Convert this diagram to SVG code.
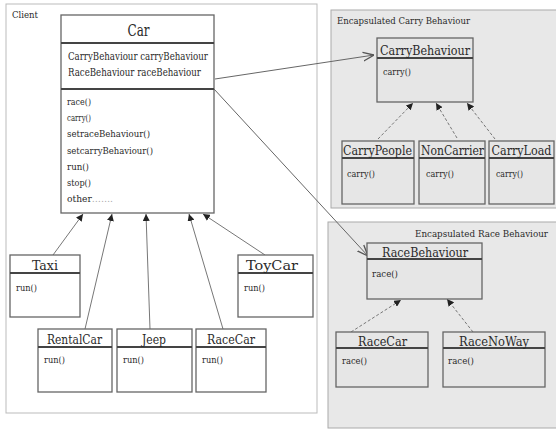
<svg xmlns="http://www.w3.org/2000/svg" width="556" height="431" viewBox="0 0 556 431">
<style>
text{fill:#2a2a2a;font-family:'DejaVu Serif Condensed','DejaVu Serif',serif;font-stretch:condensed}
.box{fill:#fff;stroke:#666;stroke-width:1.3}
.gbox{fill:#e6e6e6;stroke:#666;stroke-width:1.3}
.div{stroke:#444;stroke-width:2}
.t{font-size:13px;text-anchor:middle}
.s{font-size:10px}
.m{font-size:9.5px}
.grp{fill:#e8e8e8;stroke:#aaa;stroke-width:1}
.inh{stroke:#777;stroke-width:1;fill:none;marker-end:url(#tri)}
.real{stroke:#777;stroke-width:1;fill:none;stroke-dasharray:3,2;marker-end:url(#tri)}
.assoc{stroke:#666;stroke-width:1;fill:none;marker-end:url(#open)}
</style>
<defs>
<marker id="tri" viewBox="0 0 10 10" refX="10" refY="5" markerWidth="7" markerHeight="7" orient="auto" markerUnits="userSpaceOnUse"><path d="M0,0 L10,5 L0,10 z" fill="#222"/></marker>
<marker id="open" viewBox="0 0 10 10" refX="10" refY="5" markerWidth="11" markerHeight="11" orient="auto" markerUnits="userSpaceOnUse"><path d="M0,1 L10,5 L0,9" fill="none" stroke="#555" stroke-width="1.2"/></marker>
</defs>
<rect width="556" height="431" fill="#fff"/>
<g id="client">
<rect x="6" y="4" width="311" height="409" fill="#fff" stroke="#bbb" stroke-width="1"/>
<text x="12" y="18" class="s" textLength="26" lengthAdjust="spacingAndGlyphs">Client</text>
</g>
<g id="carry-group">
<rect x="331" y="10" width="230" height="198" class="grp"/>
<text x="337" y="24" class="s" textLength="133" lengthAdjust="spacingAndGlyphs">Encapsulated Carry Behaviour</text>
</g>
<g id="race-group">
<rect x="328" y="222" width="233" height="206" class="grp"/>
<text x="415" y="237" class="s" textLength="133" lengthAdjust="spacingAndGlyphs">Encapsulated Race  Behaviour</text>
</g>
<g id="connectors">
<line x1="53" y1="255" x2="83" y2="214" class="inh"/>
<line x1="85" y1="329" x2="112" y2="214" class="inh"/>
<line x1="150" y1="329" x2="146" y2="214" class="inh"/>
<line x1="223" y1="329" x2="189" y2="214" class="inh"/>
<line x1="265" y1="255" x2="203" y2="214" class="inh"/>
<line x1="378" y1="139" x2="413" y2="103" class="real"/>
<line x1="457" y1="138" x2="436" y2="103" class="real"/>
<line x1="495" y1="139" x2="467" y2="103" class="real"/>
<line x1="351" y1="332" x2="401" y2="300" class="real"/>
<line x1="473" y1="332" x2="447" y2="299" class="real"/>
<line x1="215" y1="79" x2="374" y2="55" class="assoc"/>
<line x1="214" y1="89" x2="368" y2="256" class="assoc"/>
</g>
<g id="car">
<rect x="61" y="15" width="153" height="198" class="box"/>
<line x1="61" y1="43" x2="214" y2="43" class="div"/>
<line x1="61" y1="89" x2="214" y2="89" class="div"/>
<text x="138.5" y="36" font-size="17" text-anchor="middle" textLength="22" lengthAdjust="spacingAndGlyphs">Car</text>
<text x="68" y="60" font-size="11" textLength="140" lengthAdjust="spacingAndGlyphs">CarryBehaviour carryBehaviour</text>
<text x="68" y="76" font-size="11" textLength="133" lengthAdjust="spacingAndGlyphs">RaceBehaviour raceBehaviour</text>
<text x="67" y="105" class="m" textLength="24" lengthAdjust="spacingAndGlyphs">race()</text>
<text x="67" y="121" class="m" textLength="24" lengthAdjust="spacingAndGlyphs">carry()</text>
<text x="67" y="137" class="m" textLength="83" lengthAdjust="spacingAndGlyphs">setraceBehaviour()</text>
<text x="67" y="154" class="m" textLength="86" lengthAdjust="spacingAndGlyphs">setcarryBehaviour()</text>
<text x="67" y="170" class="m" textLength="22" lengthAdjust="spacingAndGlyphs">run()</text>
<text x="67" y="186" class="m" textLength="24" lengthAdjust="spacingAndGlyphs">stop()</text>
<text x="67" y="202" class="m" textLength="46" lengthAdjust="spacingAndGlyphs">other<tspan fill="#aaa">…….</tspan></text>
</g>
<g id="taxi">
<rect x="10" y="255" width="70" height="62" class="box"/>
<line x1="10" y1="273" x2="80" y2="273" class="div"/>
<text x="45" y="270" class="t" font-size="12.5" textLength="26" lengthAdjust="spacingAndGlyphs">Taxi</text>
<text x="16" y="291" class="m" textLength="21" lengthAdjust="spacingAndGlyphs">run()</text>
</g>
<g id="toycar">
<rect x="238" y="255" width="75" height="62" class="box"/>
<line x1="238" y1="273" x2="313" y2="273" class="div"/>
<text x="272" y="270" class="t" font-size="12.5" textLength="52" lengthAdjust="spacingAndGlyphs">ToyCar</text>
<text x="244" y="291" class="m" textLength="21" lengthAdjust="spacingAndGlyphs">run()</text>
</g>
<g id="rentalcar">
<rect x="38" y="329" width="74" height="63" class="box"/>
<line x1="38" y1="347" x2="112" y2="347" class="div"/>
<text x="74.5" y="344" class="t" textLength="55" lengthAdjust="spacingAndGlyphs">RentalCar</text>
<text x="44" y="363" class="m" textLength="21" lengthAdjust="spacingAndGlyphs">run()</text>
</g>
<g id="jeep">
<rect x="117" y="329" width="75" height="63" class="box"/>
<line x1="117" y1="347" x2="192" y2="347" class="div"/>
<text x="154" y="344" class="t" textLength="24" lengthAdjust="spacingAndGlyphs">Jeep</text>
<text x="123" y="363" class="m" textLength="21" lengthAdjust="spacingAndGlyphs">run()</text>
</g>
<g id="racecar-client">
<rect x="196" y="329" width="70" height="63" class="box"/>
<line x1="196" y1="347" x2="266" y2="347" class="div"/>
<text x="231" y="344" class="t" textLength="48" lengthAdjust="spacingAndGlyphs">RaceCar</text>
<text x="202" y="363" class="m" textLength="21" lengthAdjust="spacingAndGlyphs">run()</text>
</g>
<g id="carrybehaviour">
<rect x="377" y="38" width="96" height="64" class="gbox"/>
<line x1="377" y1="58" x2="473" y2="58" class="div"/>
<text x="425" y="55" class="t" font-size="15" textLength="90" lengthAdjust="spacingAndGlyphs">CarryBehaviour</text>
<text x="383" y="75" class="s" textLength="28" lengthAdjust="spacingAndGlyphs">carry()</text>
</g>
<g id="carrypeople">
<rect x="342" y="141" width="72" height="63" class="gbox"/>
<line x1="342" y1="158" x2="414" y2="158" class="div"/>
<text x="377.5" y="155" class="t" font-size="14" textLength="69" lengthAdjust="spacingAndGlyphs">CarryPeople</text>
<text x="347" y="177" class="s" textLength="28" lengthAdjust="spacingAndGlyphs">carry()</text>
</g>
<g id="noncarrier">
<rect x="419" y="141" width="66" height="63" class="gbox"/>
<line x1="419" y1="158" x2="485" y2="158" class="div"/>
<text x="452.5" y="155" class="t" font-size="14" textLength="63" lengthAdjust="spacingAndGlyphs">NonCarrier</text>
<text x="426" y="177" class="s" textLength="28" lengthAdjust="spacingAndGlyphs">carry()</text>
</g>
<g id="carryload">
<rect x="489" y="141" width="65" height="63" class="gbox"/>
<line x1="489" y1="158" x2="554" y2="158" class="div"/>
<text x="521.5" y="155" class="t" font-size="14" textLength="60" lengthAdjust="spacingAndGlyphs">CarryLoad</text>
<text x="496" y="177" class="s" textLength="27" lengthAdjust="spacingAndGlyphs">carry()</text>
</g>
<g id="racebehaviour">
<rect x="367" y="243" width="115" height="56" class="gbox"/>
<line x1="367" y1="259" x2="482" y2="259" class="div"/>
<text x="425" y="257" class="t" font-size="14" textLength="86" lengthAdjust="spacingAndGlyphs">RaceBehaviour</text>
<text x="372" y="277" class="s" textLength="26" lengthAdjust="spacingAndGlyphs">race()</text>
</g>
<g id="racecar">
<rect x="336" y="332" width="92" height="55" class="gbox"/>
<line x1="336" y1="348" x2="428" y2="348" class="div"/>
<text x="382.5" y="346" class="t" font-size="14" textLength="49" lengthAdjust="spacingAndGlyphs">RaceCar</text>
<text x="342" y="364" class="s" textLength="25" lengthAdjust="spacingAndGlyphs">race()</text>
</g>
<g id="racenoway">
<rect x="443" y="332" width="102" height="55" class="gbox"/>
<line x1="443" y1="348" x2="545" y2="348" class="div"/>
<text x="494" y="346" class="t" font-size="14" textLength="70" lengthAdjust="spacingAndGlyphs">RaceNoWay</text>
<text x="448" y="364" class="s" textLength="26" lengthAdjust="spacingAndGlyphs">race()</text>
</g>
</svg>
